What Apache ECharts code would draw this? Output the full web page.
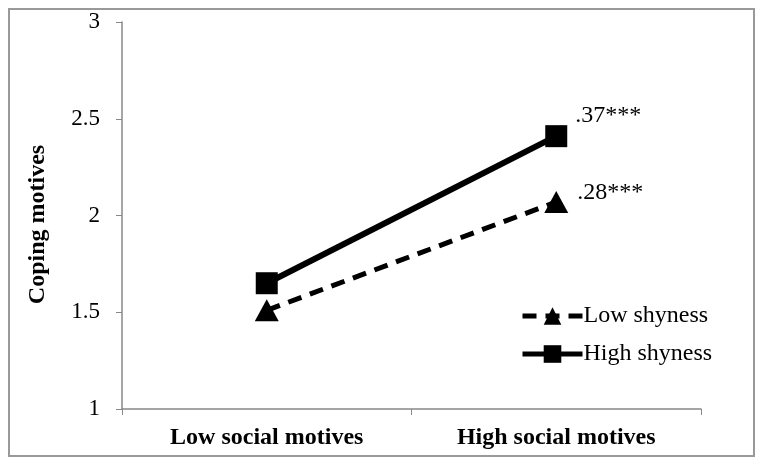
<!DOCTYPE html>
<html>
<head>
<meta charset="utf-8">
<script src="https://cdn.jsdelivr.net/npm/echarts@6/dist/echarts.min.js"></script>
<style>html,body{margin:0;padding:0;background:#fff}#c{width:764px;height:466px}</style>
</head>
<body>
<div id="c"></div>
<script>
const categories = ["Low social motives", "High social motives"];
const lowShyness = [1.51, 2.07];
const highShyness = [1.65, 2.41];
const lowLabel = ".28***";
const highLabel = ".37***";
const yTicks = [1, 1.5, 2, 2.5, 3];

const FONT = '"Liberation Serif", "Times New Roman", serif';
const chart = echarts.init(document.getElementById('c'), null, {renderer: 'canvas'});
chart.setOption({
  backgroundColor: '#fff',
  animation: false,
  textStyle: {fontFamily: FONT},
  graphic: [{
    type: 'rect', shape: {x: 9, y: 9, width: 745, height: 447},
    style: {fill: 'none', stroke: '#999', lineWidth: 2}, silent: true
  }],
  grid: {left: 122, right: 63, top: 22, bottom: 57},
  legend: {
    orient: 'vertical', left: 515, top: 299, itemGap: 14,
    itemWidth: 60, itemHeight: 22,
    lineStyle: {width: 5},
    textStyle: {fontFamily: FONT, fontSize: 24, color: '#000', padding: [0,0,0,-4]},
    data: ['Low shyness', 'High shyness']
  },
  xAxis: {
    type: 'category', data: categories, boundaryGap: true,
    axisLine: {lineStyle: {color: '#888', width: 1.5}},
    axisTick: {show: true, length: 6, lineStyle: {color: '#888'}},
    axisLabel: {fontFamily: FONT, fontSize: 24, fontWeight: 'bold', color: '#000', margin: 17}
  },
  yAxis: {
    type: 'value', min: yTicks[0], max: yTicks[yTicks.length-1], interval: 0.5,
    name: 'Coping motives', nameLocation: 'middle', nameGap: 72, nameRotate: 90,
    nameTextStyle: {fontFamily: FONT, fontSize: 24, fontWeight: 'bold', color: '#000', padding: [0, 18, 0, 0]},
    axisLine: {show: true, lineStyle: {color: '#888', width: 1.5}},
    axisTick: {show: true, length: 6, lineStyle: {color: '#888'}},
    splitLine: {show: false},
    axisLabel: {fontFamily: FONT, fontSize: 23, color: '#000', margin: 22}
  },
  series: [{
    name: 'Low shyness', type: 'line', data: lowShyness,
    symbol: 'triangle', symbolSize: [24, 22],
    lineStyle: {color: '#000', width: 5, type: [14, 9]},
    itemStyle: {color: '#000'},
    label: {show: true, fontFamily: FONT, fontSize: 24, color: '#000',
      position: 'right', offset: [4, -9],
      formatter: p => p.dataIndex === lowShyness.length - 1 ? lowLabel : ''}
  }, {
    name: 'High shyness', type: 'line', data: highShyness,
    symbol: 'rect', symbolSize: 22,
    lineStyle: {color: '#000', width: 6},
    itemStyle: {color: '#000'},
    label: {show: true, fontFamily: FONT, fontSize: 24, color: '#000',
      position: 'right', offset: [3, -20],
      formatter: p => p.dataIndex === highShyness.length - 1 ? highLabel : ''}
  }]
});
</script>
</body>
</html>
